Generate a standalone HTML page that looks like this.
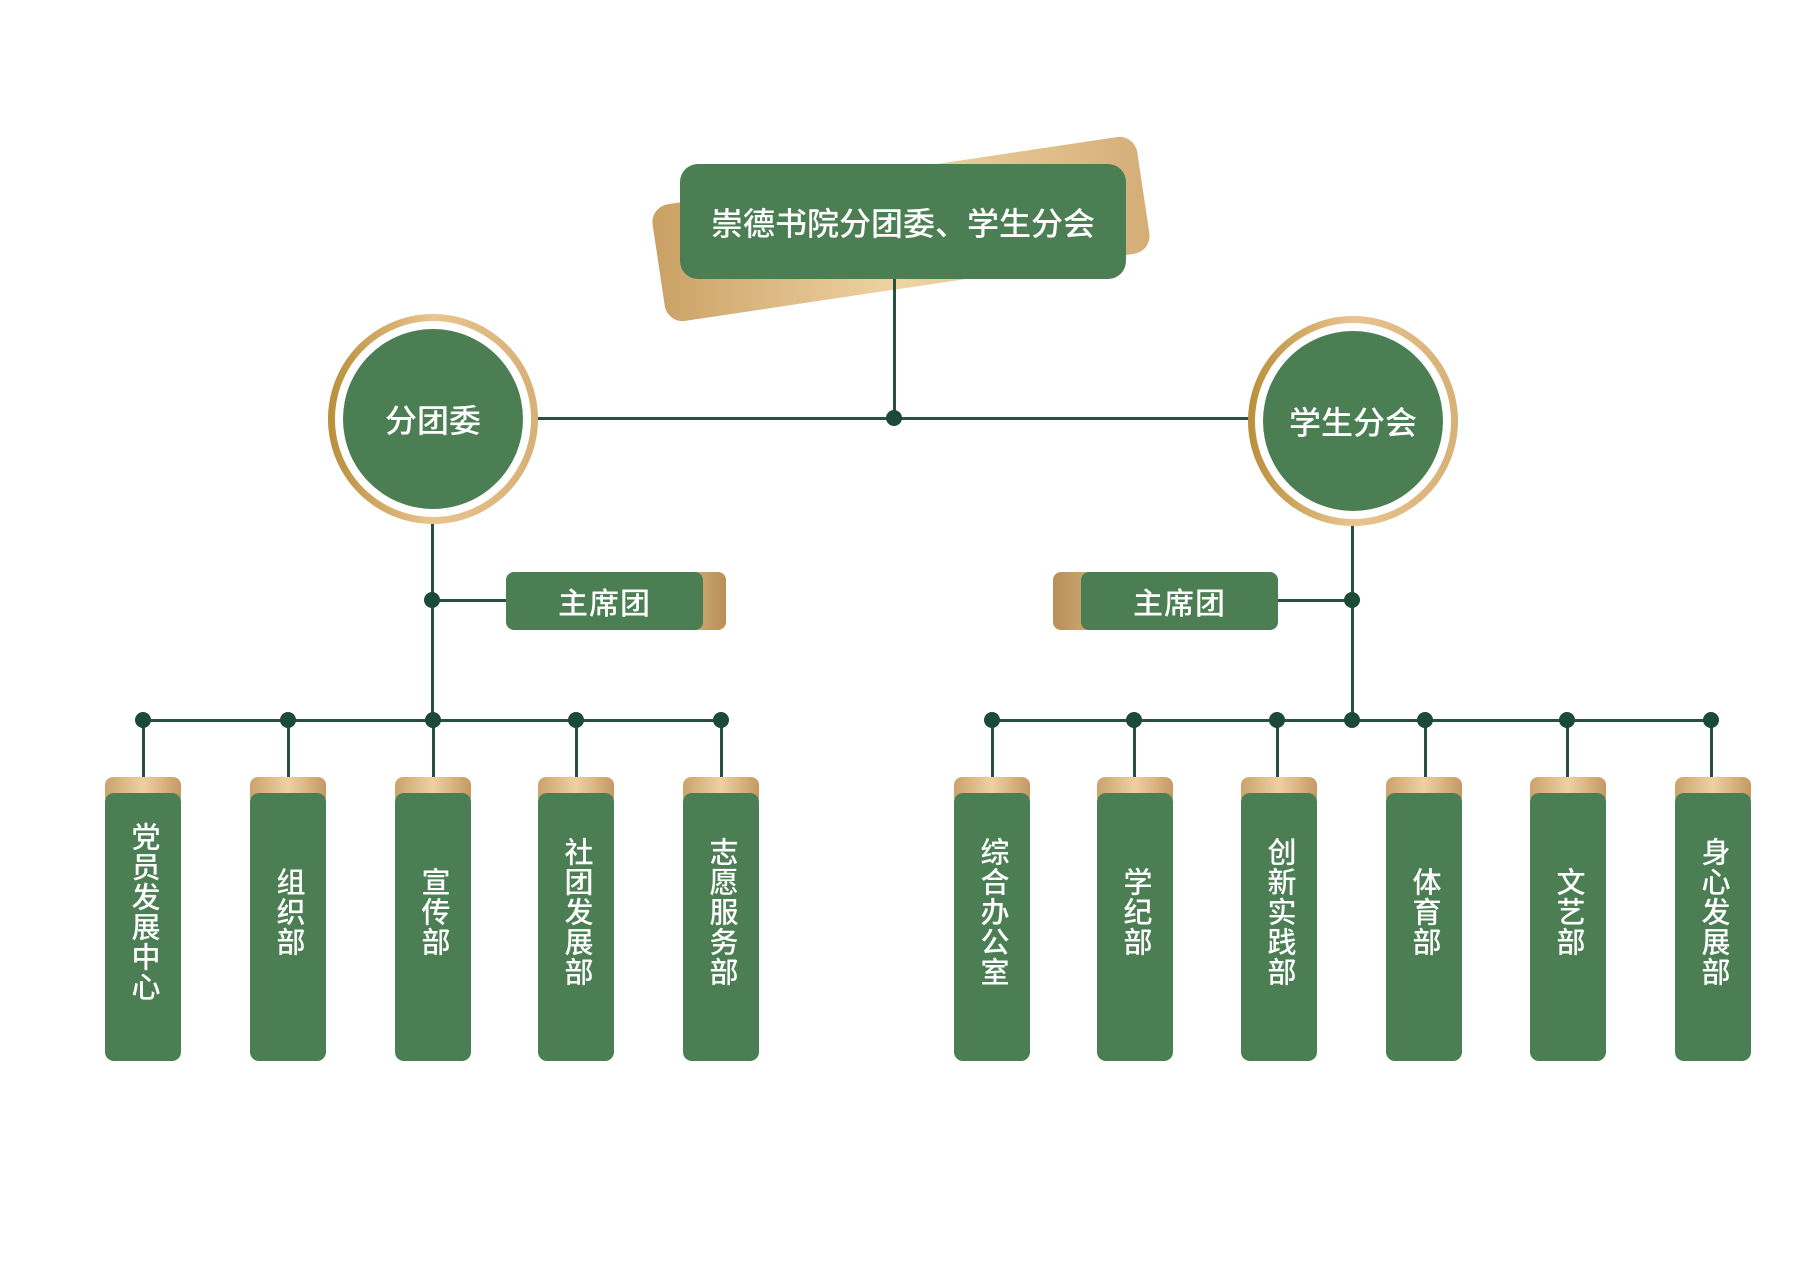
<!DOCTYPE html>
<html><head><meta charset="utf-8"><style>
body{margin:0;width:1810px;height:1280px;background:#fff;position:relative;overflow:hidden;font-family:"Liberation Sans","Noto Sans CJK SC",sans-serif;font-weight:500}
#w{position:absolute;left:-4px;top:0;width:1810px;height:1280px}
.a{position:absolute}
.ln{position:absolute;background:#27503f}
.dot{position:absolute;width:16px;height:16px;border-radius:50%;background:#1b4a38;margin:-8px 0 0 -8px}
.g{background:#4b7e53;color:#fff}
.card{position:absolute;width:76px;height:284px;margin-left:-38px;top:777px}
.card .t{position:absolute;left:0;right:0;top:0;height:22px;border-radius:8px 8px 0 0;background:linear-gradient(90deg,#c9a46b,#efd0a0,#c29a63)}
.card .b{position:absolute;left:0;right:0;top:16px;bottom:0;border-radius:9px;background:#4b7e53;color:#fff;font-size:29px;line-height:32px;display:flex;align-items:center;justify-content:center;padding-bottom:30px;box-sizing:border-box}
.card .b span{writing-mode:vertical-rl;letter-spacing:1px}
.circ{position:absolute;width:210px;height:210px;border-radius:50%;margin:-105px 0 0 -105px;background:linear-gradient(90deg,#b98f3a,#e9c48f,#d7b077)}
.circ .w{position:absolute;left:7px;top:7px;right:7px;bottom:7px;border-radius:50%;background:#fff}
.circ .i{position:absolute;left:15px;top:15px;right:15px;bottom:15px;border-radius:50%;background:#4b7e53;color:#fff;font-size:32px;display:flex;align-items:center;justify-content:center}
</style></head><body><div id="w">
<div class="a" style="left:660px;top:170px;width:490px;height:118px;border-radius:18px;background:linear-gradient(100deg,#c9a064,#f0d3a4,#d4ad76);transform:rotate(-8.5deg)"></div>
<div class="a g" style="left:684px;top:164px;width:446px;height:115px;border-radius:18px;font-size:32px;display:flex;align-items:center;justify-content:center">崇德书院分团委、学生分会</div>

<div class="ln" style="left:897px;top:279px;width:3px;height:140px"></div>
<div class="ln" style="left:540px;top:417px;width:716px;height:3px"></div>
<div class="dot" style="left:898px;top:418px"></div>

<div class="circ" style="left:437px;top:419px"><div class="w"></div><div class="i">分团委</div></div>
<div class="circ" style="left:1357px;top:421px"><div class="w"></div><div class="i">学生分会</div></div>

<div class="ln" style="left:435px;top:524px;width:3px;height:197px"></div>
<div class="ln" style="left:1355px;top:526px;width:3px;height:195px"></div>
<div class="ln" style="left:436px;top:599px;width:80px;height:3px"></div>
<div class="ln" style="left:1280px;top:599px;width:76px;height:3px"></div>
<div class="dot" style="left:436px;top:600px"></div>
<div class="dot" style="left:1356px;top:600px"></div>

<div class="a" style="left:570px;top:572px;width:160px;height:58px;border-radius:8px;background:linear-gradient(90deg,#c9a46b,#efd0a0,#b88f57)"></div>
<div class="a g" style="left:510px;top:572px;width:197px;height:58px;border-radius:8px;font-size:30px;display:flex;align-items:center;justify-content:center;letter-spacing:1px">主席团</div>
<div class="a" style="left:1057px;top:572px;width:100px;height:58px;border-radius:8px;background:linear-gradient(90deg,#b88f57,#efd0a0)"></div>
<div class="a g" style="left:1085px;top:572px;width:197px;height:58px;border-radius:8px;font-size:30px;display:flex;align-items:center;justify-content:center;letter-spacing:1px">主席团</div>

<div class="ln" style="left:147px;top:719px;width:578px;height:3px"></div>
<div class="ln" style="left:996px;top:719px;width:720px;height:3px"></div>

<div class="ln" style="left:146px;top:720px;width:3px;height:58px"></div>
<div class="ln" style="left:291px;top:720px;width:3px;height:58px"></div>
<div class="ln" style="left:436px;top:720px;width:3px;height:58px"></div>
<div class="ln" style="left:579px;top:720px;width:3px;height:58px"></div>
<div class="ln" style="left:724px;top:720px;width:3px;height:58px"></div>
<div class="ln" style="left:995px;top:720px;width:3px;height:58px"></div>
<div class="ln" style="left:1137px;top:720px;width:3px;height:58px"></div>
<div class="ln" style="left:1280px;top:720px;width:3px;height:58px"></div>
<div class="ln" style="left:1428px;top:720px;width:3px;height:58px"></div>
<div class="ln" style="left:1570px;top:720px;width:3px;height:58px"></div>
<div class="ln" style="left:1714px;top:720px;width:3px;height:58px"></div>

<div class="dot" style="left:147px;top:720px"></div>
<div class="dot" style="left:292px;top:720px"></div>
<div class="dot" style="left:437px;top:720px"></div>
<div class="dot" style="left:580px;top:720px"></div>
<div class="dot" style="left:725px;top:720px"></div>
<div class="dot" style="left:996px;top:720px"></div>
<div class="dot" style="left:1138px;top:720px"></div>
<div class="dot" style="left:1281px;top:720px"></div>
<div class="dot" style="left:1356px;top:720px"></div>
<div class="dot" style="left:1429px;top:720px"></div>
<div class="dot" style="left:1571px;top:720px"></div>
<div class="dot" style="left:1715px;top:720px"></div>

<div class="card" style="left:147px"><div class="t"></div><div class="b"><span>党员发展中心</span></div></div>
<div class="card" style="left:292px"><div class="t"></div><div class="b"><span>组织部</span></div></div>
<div class="card" style="left:437px"><div class="t"></div><div class="b"><span>宣传部</span></div></div>
<div class="card" style="left:580px"><div class="t"></div><div class="b"><span>社团发展部</span></div></div>
<div class="card" style="left:725px"><div class="t"></div><div class="b"><span>志愿服务部</span></div></div>
<div class="card" style="left:996px"><div class="t"></div><div class="b"><span>综合办公室</span></div></div>
<div class="card" style="left:1139px"><div class="t"></div><div class="b"><span>学纪部</span></div></div>
<div class="card" style="left:1283px"><div class="t"></div><div class="b"><span>创新实践部</span></div></div>
<div class="card" style="left:1428px"><div class="t"></div><div class="b"><span>体育部</span></div></div>
<div class="card" style="left:1572px"><div class="t"></div><div class="b"><span>文艺部</span></div></div>
<div class="card" style="left:1717px"><div class="t"></div><div class="b"><span>身心发展部</span></div></div>
</div></body></html>
